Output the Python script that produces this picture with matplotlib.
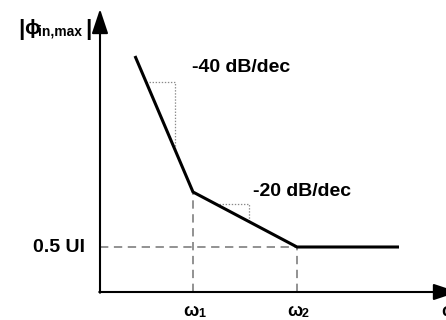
import numpy as np
import matplotlib
matplotlib.use("Agg")
import matplotlib.pyplot as plt

plt.rcParams["lines.scale_dashes"] = False

# Asymptotic magnitude sketch (schematic units, origin at the axes corner)
corner_x = [35, 93, 197, 299]
corner_y = [236, 100, 45, 45]
break_labels = ["1", "2"]
slope_labels = ["-40 dB/dec", "-20 dB/dec"]
floor_label = "0.5 UI"

FONT = ["Liberation Sans", "DejaVu Sans"]

fig = plt.figure(figsize=(4.46, 3.2), dpi=100)
ax = fig.add_axes([0, 0, 1, 1])
ax.set_xlim(-100, 346)
ax.set_ylim(-28, 292)
ax.axis("off")

# axes with arrowheads
arrow_kw = dict(arrowstyle="-|>,head_length=1.5,head_width=0.5", mutation_scale=10,
                lw=1.5, color="black", shrinkA=0, shrinkB=0)
ax.annotate("", xy=(0, 283), xytext=(0, -0.75), arrowprops=arrow_kw,
            annotation_clip=False)
ax.annotate("", xy=(358, 0), xytext=(-0.75, 0), arrowprops=arrow_kw,
            annotation_clip=False)

# dashed guides to the break frequencies and the floor level
dash_kw = dict(color="#7f7f7f", lw=1.2, linestyle=(0, (6, 4)))
ax.plot([corner_x[1], corner_x[1]], [0, corner_y[1]], **dash_kw)
ax.plot([corner_x[2], corner_x[2]], [0, corner_y[2]], **dash_kw)
ax.plot([0, corner_x[2]], [corner_y[2], corner_y[2]], **dash_kw)

# slope triangles
def curve_at(x):
    return np.interp(x, corner_x, corner_y)

dot_kw = dict(color="#8a8a8a", lw=0.9, linestyle=(0, (1, 1.2)))
for x0, x1 in [(46, 75), (116, 149)]:
    y0, y1 = curve_at(x0), curve_at(x1)
    ax.plot([x0, x1, x1], [y0, y0, y1], **dot_kw)

# magnitude asymptote
ax.plot(corner_x, corner_y, color="black", lw=2.2, solid_capstyle="butt",
        solid_joinstyle="miter")

# slope annotations
ax.text(92, 224, slope_labels[0], fontsize=14, fontweight="bold", family=FONT,
        ha="left", va="center")
ax.text(153, 101, slope_labels[1], fontsize=14, fontweight="bold", family=FONT,
        ha="left", va="center")

# floor level label
ax.text(-15, corner_y[2] - 1, floor_label, fontsize=14, fontweight="bold", family=FONT,
        ha="right", va="center")

# frequency labels
for xb, sub in zip(corner_x[1:3], break_labels):
    ax.text(xb - 10, -24, "ω", fontsize=13, fontweight="bold", family=FONT,
            ha="left", va="baseline")
    ax.text(xb + 5, -25, sub, fontsize=9, fontweight="bold", family=FONT,
            ha="left", va="baseline")
ax.text(341, -24, "ω", fontsize=13, fontweight="bold", family=FONT,
        ha="left", va="baseline")

# y-axis label |ϕ_in,max|
ax.text(-82, 257, "|", fontsize=16, fontweight="bold", family=FONT,
        ha="left", va="baseline")
ax.text(-76, 258, "ϕ", fontsize=15, fontweight="bold", family=FONT,
        ha="left", va="baseline")
ax.text(-62, 257, "in,max", fontsize=10, fontweight="bold", family=FONT,
        ha="left", va="baseline")
ax.text(-15, 257, "|", fontsize=16, fontweight="bold", family=FONT,
        ha="left", va="baseline")

fig.savefig("out.png", dpi=100)
